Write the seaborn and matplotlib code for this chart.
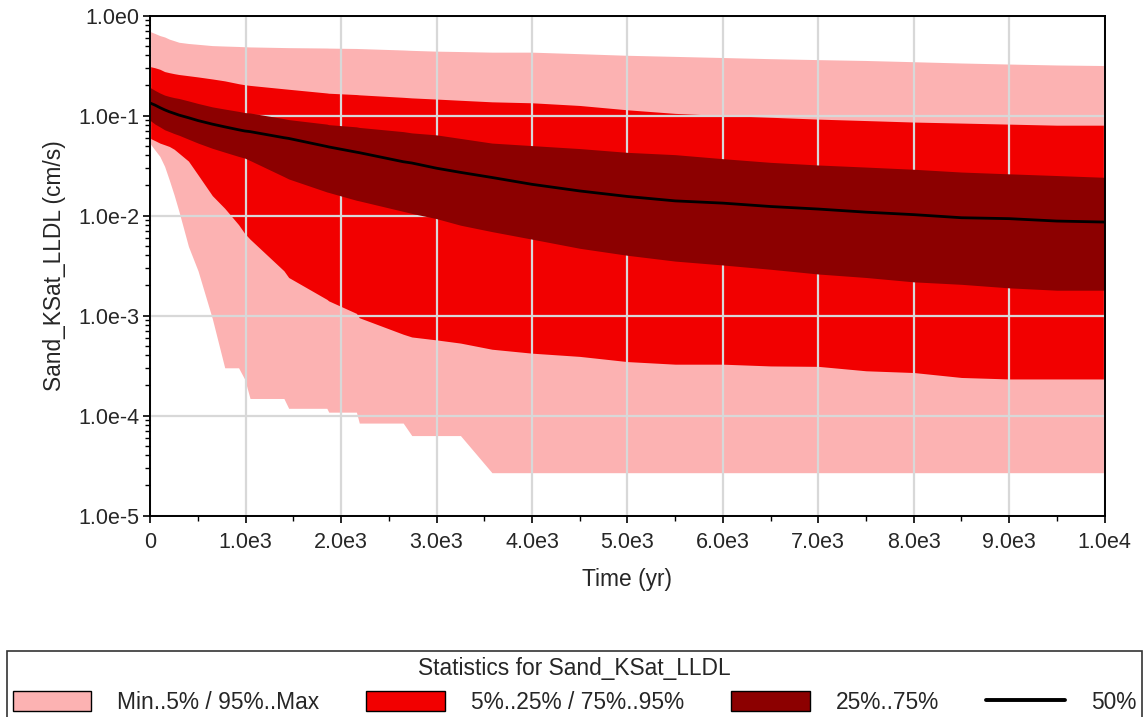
import numpy as np
import pandas as pd
import matplotlib
matplotlib.use("Agg")
import matplotlib.pyplot as plt
import seaborn as sns
from matplotlib.patches import Patch
from matplotlib.lines import Line2D
from matplotlib.ticker import LogLocator, NullFormatter, MultipleLocator

# ---------------- data ----------------
years = [0, 50, 100, 150, 200, 250, 300, 400, 500, 650, 780, 925, 990, 1045,
         1400, 1450, 1850, 1870, 2160, 2190, 2650, 2740, 3000, 3250, 3580,
         4000, 4500, 5000, 5500, 6000, 6500, 7000, 7500, 8000, 8500, 9000,
         9500, 10000]

k_max = [0.69, 0.66, 0.63, 0.61, 0.58, 0.56, 0.54, 0.525, 0.515, 0.50,
         0.495, 0.49, 0.487, 0.485, 0.478, 0.477, 0.473, 0.472, 0.468, 0.467,
         0.452, 0.448, 0.44, 0.436, 0.43, 0.43, 0.415, 0.40, 0.39, 0.38,
         0.37, 0.362, 0.355, 0.345, 0.335, 0.327, 0.32, 0.316]

k_p95 = [0.308, 0.30, 0.29, 0.275, 0.268, 0.262, 0.257, 0.25, 0.243, 0.232,
         0.222, 0.208, 0.203, 0.200, 0.185, 0.183, 0.168, 0.167, 0.162, 0.161,
         0.152, 0.150, 0.146, 0.142, 0.137, 0.134, 0.126, 0.114, 0.105, 0.100,
         0.096, 0.092, 0.089, 0.086, 0.084, 0.082, 0.080, 0.080]

k_p75 = [0.19, 0.178, 0.168, 0.16, 0.155, 0.151, 0.148, 0.14, 0.132, 0.122,
         0.116, 0.11, 0.107, 0.106, 0.093, 0.091, 0.082, 0.081, 0.077, 0.076,
         0.069, 0.067, 0.064, 0.059, 0.053, 0.050, 0.0467, 0.0428, 0.0406, 0.037,
         0.034, 0.032, 0.0305, 0.029, 0.0272, 0.0261, 0.0251, 0.0241]

k_p50 = [0.133, 0.127, 0.12, 0.114, 0.109, 0.105, 0.101, 0.095, 0.089, 0.082,
         0.077, 0.072, 0.070, 0.069, 0.060, 0.059, 0.049, 0.0485, 0.043, 0.0425,
         0.0345, 0.0335, 0.0297, 0.027, 0.024, 0.0205, 0.0176, 0.0155, 0.014, 0.0133,
         0.0123, 0.0116, 0.0108, 0.0102, 0.0095, 0.0093, 0.0088, 0.0086]

k_p25 = [0.089, 0.082, 0.077, 0.072, 0.069, 0.066, 0.0635, 0.058, 0.053, 0.047,
         0.043, 0.039, 0.0375, 0.0355, 0.0245, 0.0232, 0.0172, 0.017, 0.0142, 0.014,
         0.011, 0.0105, 0.0093, 0.0080, 0.0069, 0.0058, 0.0047, 0.0040, 0.0035, 0.0032,
         0.0029, 0.0026, 0.0024, 0.00217, 0.00205, 0.00189, 0.00179, 0.00179]

k_p5 = [0.059, 0.056, 0.053, 0.051, 0.049, 0.046, 0.042, 0.035, 0.0255, 0.0158,
        0.0118, 0.0081, 0.0066, 0.0058, 0.0028, 0.0024, 0.00145, 0.0014, 0.00105, 0.00095,
        0.00065, 0.00061, 0.00057, 0.00053, 0.00046, 0.00042, 0.00039, 0.000346, 0.000326, 0.000326,
        0.000313, 0.00031, 0.00028, 0.000269, 0.00024, 0.000232, 0.000232, 0.000232]

k_min = [0.052, 0.045, 0.039, 0.031, 0.0225, 0.016, 0.011, 0.0049, 0.0028, 0.00093,
         0.0003, 0.0003, 0.00023, 0.000148, 0.000148, 0.000118, 0.000118, 0.000108, 0.000108, 8.4e-5,
         8.4e-5, 6.3e-5, 6.3e-5, 6.3e-5, 2.68e-5, 2.68e-5, 2.68e-5, 2.68e-5, 2.68e-5, 2.68e-5,
         2.68e-5, 2.68e-5, 2.68e-5, 2.68e-5, 2.68e-5, 2.68e-5, 2.68e-5, 2.68e-5]

x_ticks = [0, 1000, 2000, 3000, 4000, 5000, 6000, 7000, 8000, 9000, 10000]
x_tick_labels = ["0", "1.0e3", "2.0e3", "3.0e3", "4.0e3", "5.0e3", "6.0e3",
                 "7.0e3", "8.0e3", "9.0e3", "1.0e4"]
y_ticks = [1e-5, 1e-4, 1e-3, 1e-2, 1e-1, 1e0]
y_tick_labels = ["1.0e-5", "1.0e-4", "1.0e-3", "1.0e-2", "1.0e-1", "1.0e0"]

legend_title = "Statistics for Sand_KSat_LLDL"
legend_labels = ["Min..5% / 95%..Max", "5%..25% / 75%..95%", "25%..75%", "50%"]

df = pd.DataFrame({"year": years, "vmin": k_min, "p5": k_p5, "p25": k_p25,
                   "p50": k_p50, "p75": k_p75, "p95": k_p95, "vmax": k_max})

# ---------------- style ----------------
sns.set_style("ticks")
plt.rcParams["font.family"] = ["Liberation Sans", "DejaVu Sans"]
FS = 15.5
FL = 16.4

c_pink = "#FCB2B2"
c_red = "#F20000"
c_dark = "#8C0000"
c_grid = "#D8D8D8"

W, H = 1144, 717
fig = plt.figure(figsize=(W / 100, H / 100), dpi=100)
ax = fig.add_axes([0.13138, 0.28103, 0.83418, 0.69735])
ax.set_yscale("log")

ax.fill_between(df["year"], df["vmin"], df["vmax"], color=c_pink, lw=0, zorder=1)
ax.fill_between(df["year"], df["p5"], df["p95"], color=c_red, lw=0, zorder=2)
ax.fill_between(df["year"], df["p25"], df["p75"], color=c_dark, lw=0, zorder=3)
sns.lineplot(data=df, x="year", y="p50", ax=ax, color="black", lw=2.0,
             zorder=6, legend=False)

ax.set_xlim(0, 10000)
ax.set_ylim(1e-5, 1e0)

ax.set_xticks(x_ticks)
ax.set_xticklabels(x_tick_labels)
ax.xaxis.set_minor_locator(MultipleLocator(500))
ax.set_yticks(y_ticks)
ax.set_yticklabels(y_tick_labels)
ax.yaxis.set_minor_locator(LogLocator(base=10, subs=np.arange(2, 10)))
ax.yaxis.set_minor_formatter(NullFormatter())

ax.grid(True, which="major", color=c_grid, lw=1.6, zorder=5)
ax.set_axisbelow(False)
for gl in ax.get_xgridlines() + ax.get_ygridlines():
    gl.set_zorder(5)

for s in ax.spines.values():
    s.set_color("black")
    s.set_linewidth(1.4)
    s.set_zorder(8)

ax.tick_params(axis="both", which="major", direction="out", length=5, width=1.2,
               labelsize=FS, color="black")
ax.tick_params(axis="both", which="minor", direction="out", length=3.5, width=1.0,
               color="black")
ax.tick_params(axis="x", which="major", pad=7)
ax.tick_params(axis="y", which="major", pad=3)

ax.set_xlabel("Time (yr)", fontsize=FL, labelpad=11)
ax.set_ylabel("Sand_KSat_LLDL (cm/s)", fontsize=FL, labelpad=9)

handles = [Patch(facecolor=c_pink, edgecolor="black", lw=1.0),
           Patch(facecolor=c_red, edgecolor="black", lw=1.0),
           Patch(facecolor=c_dark, edgecolor="black", lw=1.0),
           Line2D([0], [0], color="black", lw=2.8)]
lx0, lx1, ltop = 7, 1142, 651
leg = fig.legend(handles, legend_labels, title=legend_title, ncol=4,
                 loc="upper left", mode="expand",
                 bbox_to_anchor=(lx0 / W, 0, (lx1 - lx0) / W, 1 - ltop / H),
                 fontsize=FL, title_fontsize=FL, frameon=True, fancybox=False,
                 shadow=False, edgecolor="black", handlelength=3.45,
                 handleheight=0.95, handletextpad=1.15, columnspacing=2.2,
                 borderpad=0.25, borderaxespad=0.0)
leg.get_frame().set_linewidth(1.2)

fig.savefig("out.png", dpi=100)
